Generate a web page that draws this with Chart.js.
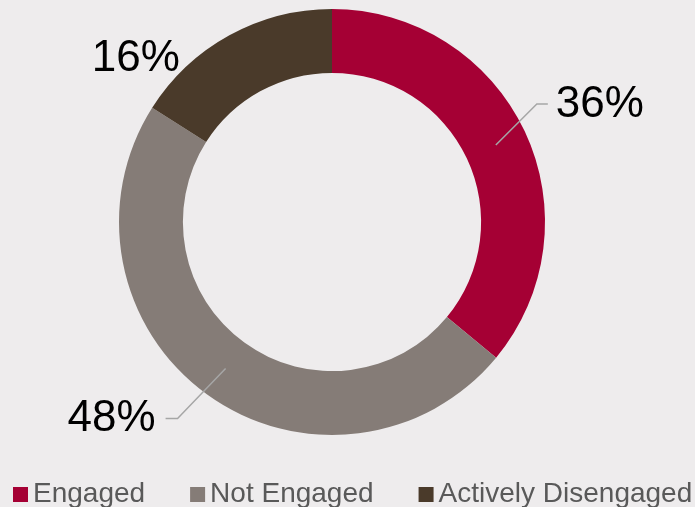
<!DOCTYPE html>
<html><head><meta charset="utf-8">
<script src="https://cdn.jsdelivr.net/npm/chart.js@4/dist/chart.umd.min.js"></script>
<style>html,body{margin:0;padding:0;background:#eeeced;}#wrap{width:695px;height:507px;position:relative;}</style>
</head><body><div id="wrap"><canvas id="c" width="695" height="507"></canvas></div>
<script>
const categories = ["Engaged", "Not Engaged", "Actively Disengaged"];
const values = [36, 48, 16];
const labels = ["36%", "48%", "16%"];
const colors = ["#a50034", "#857c77", "#4a3a2a"];

// label placement (style): leader elbow offsets from slice mid-point and text anchor
const labelLayout = [
  {leader: true, elbow: [41, -41], end: [52, -41], text: [60, -40], align: "left"},
  {leader: true, elbow: [-48, 50], end: [-60, 50], text: [-70, 50], align: "right"},
  {leader: false, text: [-65, -4], align: "right"}
];

const labelPlugin = {
  id: 'sliceLabels',
  afterDatasetsDraw(chart) {
    const ctx = chart.ctx;
    const meta = chart.getDatasetMeta(0);
    meta.data.forEach((arc, i) => {
      const p = arc.getProps(['x','y','startAngle','endAngle','innerRadius','outerRadius'], true);
      const mid = (p.startAngle + p.endAngle) / 2;
      const r = (p.innerRadius + p.outerRadius) / 2;
      const mx = p.x + Math.cos(mid) * r;
      const my = p.y + Math.sin(mid) * r;
      const L = labelLayout[i];
      ctx.save();
      if (L.leader) {
        ctx.strokeStyle = "#a6a6a6";
        ctx.lineWidth = 1.5;
        ctx.beginPath();
        ctx.moveTo(mx, my);
        ctx.lineTo(mx + L.elbow[0], my + L.elbow[1]);
        ctx.lineTo(mx + L.end[0], my + L.end[1]);
        ctx.stroke();
      }
      ctx.fillStyle = "#000";
      ctx.font = "44px 'Liberation Sans', Arial, sans-serif";
      ctx.textAlign = L.align;
      ctx.textBaseline = "middle";
      ctx.fillText(labels[i], mx + L.text[0], my + L.text[1]);
      ctx.restore();
    });
  }
};

const legendPlugin = {
  id: 'customLegend',
  afterDraw(chart) {
    const ctx = chart.ctx;
    const ds = chart.data.datasets[0];
    ctx.save();
    ctx.font = "28px 'Liberation Sans', Arial, sans-serif";
    ctx.textBaseline = "alphabetic";
    ctx.textAlign = "left";
    let x = 13;
    const baseY = 502;
    chart.data.labels.forEach((lab, i) => {
      ctx.fillStyle = ds.backgroundColor[i];
      ctx.fillRect(x, 487, 15, 15);
      ctx.fillStyle = "#595959";
      ctx.fillText(lab, x + 20, baseY);
      x += 20 + ctx.measureText(lab).width + 45;
    });
    ctx.restore();
  }
};

new Chart(document.getElementById('c'), {
  type: 'doughnut',
  data: {
    labels: categories,
    datasets: [{ data: values, backgroundColor: colors, borderWidth: 0 }]
  },
  options: {
    responsive: false,
    animation: false,
    cutout: "70%",
    layout: { padding: { left: 119, right: 150, top: 9, bottom: 72 } },
    plugins: {
      tooltip: { enabled: false },
      legend: { display: false }
    }
  },
  plugins: [labelPlugin, legendPlugin]
});
</script>
</body></html>
